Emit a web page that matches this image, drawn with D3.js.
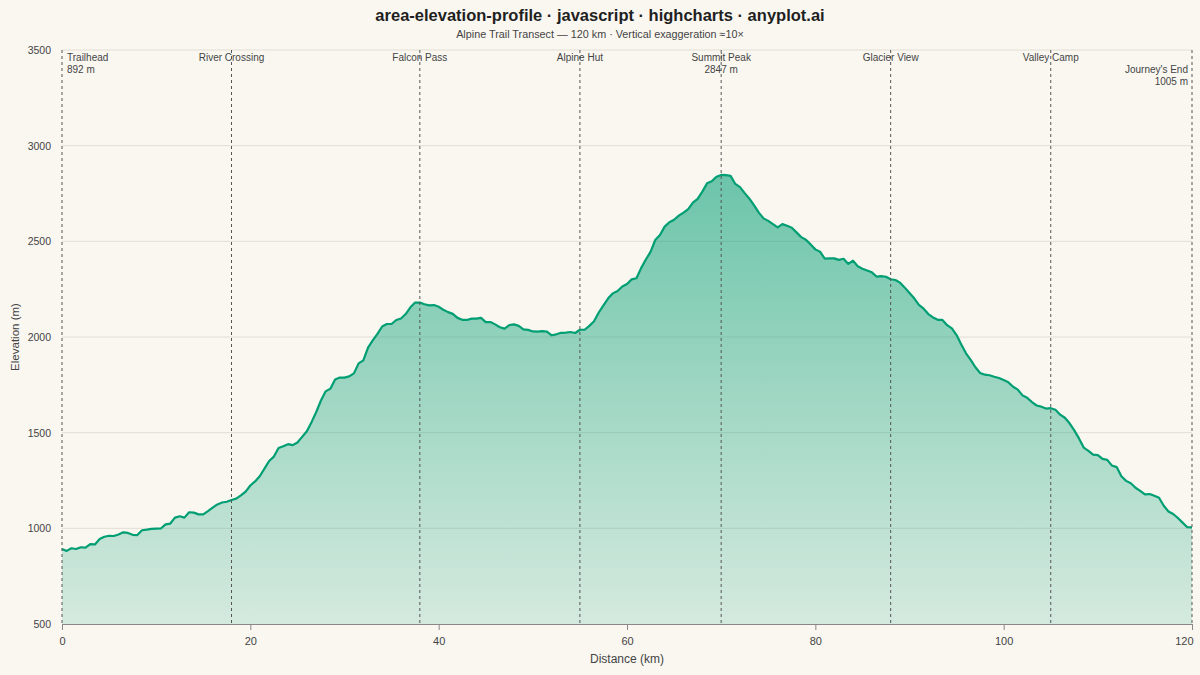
<!DOCTYPE html>
<html>
<head>
<meta charset="utf-8">
<script src="https://cdn.jsdelivr.net/npm/d3@7/dist/d3.min.js"></script>
<style>
  html, body { margin: 0; padding: 0; background: #faf7f1; }
  svg { display: block; font-family: "Liberation Sans", Arial, Helvetica, sans-serif; }
</style>
</head>
<body>
<svg id="chart" width="1200" height="675"></svg>
<script>
// ---- Data ----
const distanceStepKm = 0.5;
const elevations = [
  892, 882, 896, 892, 901, 899, 917, 916, 944, 956,
  961, 960, 968, 979, 976, 966, 965, 990, 993, 997,
  998, 999, 1021, 1025, 1056, 1063, 1056, 1084, 1082, 1073,
  1073, 1090, 1108, 1125, 1135, 1139, 1148, 1155, 1172, 1192,
  1224, 1245, 1272, 1312, 1352, 1375, 1420, 1429, 1440, 1435,
  1449, 1478, 1507, 1555, 1608, 1668, 1716, 1730, 1778, 1788,
  1788, 1794, 1810, 1862, 1878, 1944, 1982, 2016, 2055, 2068,
  2068, 2089, 2097, 2120, 2155, 2180, 2180, 2171, 2165, 2167,
  2158, 2142, 2130, 2121, 2100, 2090, 2089, 2096, 2096, 2100,
  2078, 2078, 2066, 2051, 2044, 2062, 2066, 2058, 2040, 2037,
  2029, 2028, 2031, 2028, 2009, 2014, 2022, 2023, 2026, 2021,
  2038, 2038, 2058, 2082, 2128, 2165, 2202, 2228, 2240, 2264,
  2277, 2301, 2307, 2360, 2405, 2445, 2507, 2533, 2577, 2600,
  2613, 2634, 2650, 2668, 2702, 2722, 2760, 2803, 2814, 2838,
  2847, 2846, 2842, 2800, 2783, 2752, 2723, 2688, 2650, 2620,
  2607, 2590, 2573, 2590, 2581, 2571, 2547, 2522, 2508, 2484,
  2458, 2446, 2410, 2411, 2411, 2403, 2409, 2382, 2399, 2370,
  2357, 2348, 2338, 2316, 2318, 2315, 2302, 2298, 2284, 2258,
  2230, 2202, 2168, 2148, 2120, 2102, 2090, 2089, 2062, 2045,
  2010, 1961, 1915, 1880, 1842, 1812, 1803, 1800, 1792, 1786,
  1775, 1763, 1740, 1725, 1695, 1682, 1660, 1642, 1636, 1626,
  1628, 1620, 1594, 1578, 1549, 1512, 1470, 1422, 1405, 1385,
  1383, 1363, 1358, 1328, 1320, 1272, 1248, 1236, 1212, 1196,
  1178, 1179, 1170, 1160, 1118, 1088, 1075, 1054, 1030, 1006,
  1005
];
const landmarkNames = ["Trailhead", "River Crossing", "Falcon Pass", "Alpine Hut",
                       "Summit Peak", "Glacier View", "Valley Camp", "Journey's End"];
const landmarkKm = [0, 18, 38, 55, 70, 88, 105, 120];
const xTicks = [0, 20, 40, 60, 80, 100, 120];
const yTicks = [500, 1000, 1500, 2000, 2500, 3000, 3500];
const titleText = "area-elevation-profile · javascript · highcharts · anyplot.ai";
const subtitleText = "Alpine Trail Transect — 120 km · Vertical exaggeration ≈10×";

// ---- Layout ----
const W = 1200, H = 675;
const m = { left: 62, right: 8, top: 50, bottom: 51 };
const svg = d3.select("#chart");
const points = elevations.map((v, i) => ({ km: i * distanceStepKm, v }));

const x = d3.scaleLinear().domain([0, 120]).range([m.left, W - m.right]);
const y = d3.scaleLinear().domain([500, 3500]).range([H - m.bottom, m.top]);

const lineColor = "#009e73";
const textColor = "#444";

// gradient
const defs = svg.append("defs");
const grad = defs.append("linearGradient").attr("id", "areaGrad")
  .attr("x1", 0).attr("y1", 0).attr("x2", 0).attr("y2", 1);
grad.append("stop").attr("offset", "0%").attr("stop-color", lineColor).attr("stop-opacity", 0.57);
grad.append("stop").attr("offset", "100%").attr("stop-color", lineColor).attr("stop-opacity", 0.15);

// title
svg.append("text").attr("x", W / 2).attr("y", 21).attr("text-anchor", "middle")
  .attr("font-size", 16.5).attr("font-weight", "bold").attr("fill", "#1f1f1f").text(titleText);
svg.append("text").attr("x", W / 2).attr("y", 38).attr("text-anchor", "middle")
  .attr("font-size", 10.8).attr("fill", textColor).text(subtitleText);

// gridlines
svg.append("g").selectAll("line").data(yTicks.filter(d => d !== 500)).join("line")
  .attr("x1", x(0)).attr("x2", x(120))
  .attr("y1", d => y(d)).attr("y2", d => y(d))
  .attr("stroke", "#e2ded5").attr("stroke-width", 1);

// y labels
svg.append("g").selectAll("text").data(yTicks).join("text")
  .attr("x", m.left - 11).attr("y", d => y(d) + 4)
  .attr("text-anchor", "end").attr("font-size", 10.5).attr("fill", textColor)
  .text(d => d);

// area + line
const area = d3.area().x(d => x(d.km)).y0(y(500)).y1(d => y(d.v));
const line = d3.line().x(d => x(d.km)).y(d => y(d.v));
svg.append("path").datum(points).attr("d", area).attr("fill", "url(#areaGrad)");
svg.append("path").datum(points).attr("d", line).attr("fill", "none")
  .attr("stroke", lineColor).attr("stroke-width", 2.2).attr("stroke-linejoin", "round");

// x axis
const xAxis = d3.axisBottom(x).tickValues(xTicks).tickSize(6).tickPadding(7);
const gx = svg.append("g").attr("transform", `translate(0,${y(500)})`).call(xAxis);
gx.select(".domain").attr("stroke", "#888");
gx.selectAll(".tick line").attr("stroke", "#888");
gx.selectAll(".tick text").attr("font-size", 11).attr("fill", textColor)
  .attr("font-family", "Liberation Sans, Arial, sans-serif");
// keep the last label inside the canvas
gx.selectAll(".tick text").filter(d => d === 120).attr("text-anchor", "end").attr("x", 1);

svg.append("text").attr("x", (x(0) + x(120)) / 2).attr("y", 663).attr("text-anchor", "middle")
  .attr("font-size", 12).attr("fill", textColor).text("Distance (km)");
svg.append("text").attr("transform", `translate(19,${(y(500) + y(3500)) / 2}) rotate(-90)`)
  .attr("text-anchor", "middle").attr("font-size", 11.5).attr("fill", textColor).text("Elevation (m)");

// landmarks
const maxV = d3.max(elevations);
const lm = landmarkNames.map((name, i) => {
  const km = landmarkKm[i];
  const v = elevations[Math.round(km / distanceStepKm)];
  const showElev = i === 0 || i === landmarkNames.length - 1 || v === maxV;
  return { name, km, v, showElev, i };
});
const gl = svg.append("g");
gl.selectAll("line").data(lm).join("line")
  .attr("x1", d => x(d.km)).attr("x2", d => x(d.km))
  .attr("y1", y(3500)).attr("y2", y(500))
  .attr("stroke", "#555").attr("stroke-width", 1).attr("stroke-dasharray", "3,3");
const n = lm.length;
const lx = d => x(d.km) + (d.i === 0 ? 5 : d.i === n - 1 ? -4 : 0);
const lt = gl.selectAll("text").data(lm).join("text")
  .attr("font-size", 10).attr("fill", textColor)
  .attr("text-anchor", d => d.i === 0 ? "start" : d.i === n - 1 ? "end" : "middle")
  .attr("x", lx)
  .attr("y", d => d.i === n - 1 ? 73 : 61);
lt.append("tspan").text(d => d.name);
lt.filter(d => d.showElev).append("tspan")
  .attr("x", lx).attr("dy", 12).text(d => `${d.v} m`);
</script>
</body>
</html>
